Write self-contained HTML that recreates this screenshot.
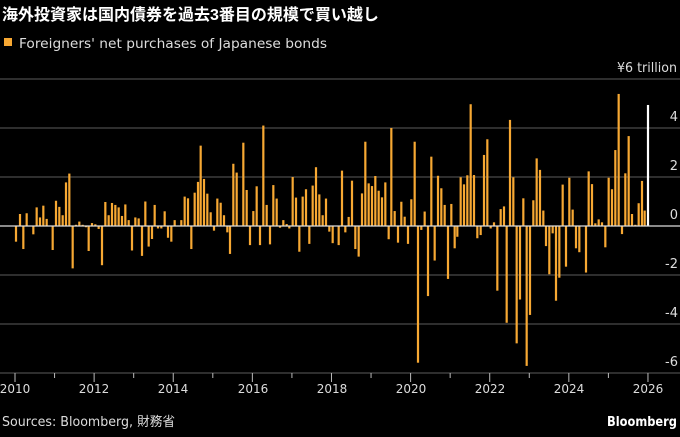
<!DOCTYPE html>
<html><head><meta charset="utf-8"><style>
body{margin:0;background:#000;width:680px;height:433px;overflow:hidden;font-family:"DejaVu Sans","Noto Sans CJK JP",sans-serif;color:#fff}
</style></head><body>
<svg id="s" width="680" height="433" xmlns="http://www.w3.org/2000/svg" font-family="DejaVu Sans, Noto Sans CJK JP, sans-serif">
<rect width="680" height="433" fill="#000"/>
<text x="2" y="20" font-size="16" font-weight="bold" fill="#fff" font-family="Liberation Sans, Noto Sans CJK JP, sans-serif">海外投資家は国内債券を過去3番目の規模で買い越し</text>
<rect x="4" y="38" width="8" height="8" fill="#f7a833"/>
<text x="19" y="48" font-size="13" fill="#ddd" textLength="308" lengthAdjust="spacingAndGlyphs">Foreigners' net purchases of Japanese bonds</text>
<text x="677" y="72" font-size="13" fill="#ddd" text-anchor="end" textLength="60" lengthAdjust="spacingAndGlyphs">¥6 trillion</text>
<g stroke="#4a4a4a" stroke-width="1.2">
<line x1="0" x2="680" y1="79" y2="79"/><line x1="0" x2="680" y1="128" y2="128"/><line x1="0" x2="680" y1="177" y2="177"/><line x1="0" x2="680" y1="275" y2="275"/><line x1="0" x2="680" y1="324" y2="324"/><line x1="0" x2="680" y1="373" y2="373"/>
</g>
<g font-size="13" fill="#ddd" text-anchor="end">
<text x="678" y="121">4</text><text x="678" y="170">2</text><text x="678" y="219">0</text><text x="678" y="268">-2</text><text x="678" y="317">-4</text><text x="678" y="366">-6</text>
</g>
<g id="bars"></g>
<line x1="0" x2="680" y1="226" y2="226" stroke="#ddd" stroke-width="1.2"/>
<g id="ticks" stroke="#bbb" stroke-width="1"></g>
<g font-size="12" fill="#ddd" text-anchor="middle">
<text x="15" y="393">2010</text><text x="94" y="393">2012</text><text x="173" y="393">2014</text><text x="253" y="393">2016</text><text x="332" y="393">2018</text><text x="411" y="393">2020</text><text x="490" y="393">2022</text><text x="569" y="393">2024</text><text x="648" y="393">2026</text>
</g>
<text x="2" y="426" font-size="13" fill="#ddd" textLength="173" lengthAdjust="spacingAndGlyphs">Sources: Bloomberg, 財務省</text>
<text x="677" y="426" font-size="13" font-weight="bold" fill="#fff" text-anchor="end" textLength="70" lengthAdjust="spacingAndGlyphs">Bloomberg</text>
</svg>
<script>
var L=[[48,-.64],[60,.49],[70,-.94],[80,.52],[90,.02],[100,-.34],[110,.76],[120,.35],[130,.83],[140,.29],[150,.02],[158,-.98],[168,1.03],[178,.78],[188,.44],[198,1.78],[208,2.14],[218,-1.73],[228,.05],[238,.18],[248,.05],[258,-.05],[266,-1.02],[276,.12],[286,.07],[296,-.12],[306,-1.6],[316,.98],[326,.44],[336,.94],[346,.86],[356,.76],[366,.41],[376,.88],[386,.24],[396,-1.0],[406,.35],[416,.31],[426,-1.22],[436,1.0],[446,-.84],[456,-.53],[464,.86],[474,-.1],[484,-.1],[494,.6],[504,-.48],[514,-.64],[524,.24],[534,.02],[544,.24],[554,1.2],[564,1.13],[574,-.94],[584,1.36],[594,1.8],[602,3.28],[612,1.92],[622,1.32],[632,.56],[642,-.19],[652,1.12],[662,.95],[672,.44],[682,-.26],[690,-1.14],[700,2.54],[710,2.18],[720,.02],[730,3.4],[740,1.47],[750,-.78],[760,.61],[770,1.62],[780,-.78],[790,4.1],[800,.86],[810,-.75],[820,1.67],[830,1.12],[840,-.07],[850,.24],[860,.08],[868,-.1],[878,2.0],[888,1.16],[898,-1.05],[908,1.2],[918,1.5],[928,-.73],[938,1.65],[948,2.4],[958,1.29],[968,.44],[978,1.12],[988,-.23],[998,-.7],[1008,.02],[1016,-.78]];
var R=[[6,2.26],[16,-.26],[26,.37],[36,1.85],[46,-.94],[56,-1.25],[66,1.33],[76,3.44],[86,1.74],[96,1.63],[106,2.04],[116,1.44],[126,1.17],[136,1.78],[146,-.54],[154,4.0],[164,.61],[174,-.68],[184,.99],[194,.38],[204,-.73],[214,1.09],[224,3.44],[234,-5.58],[244,-.16],[254,.59],[264,-2.86],[274,2.83],[284,-1.41],[294,2.05],[304,1.54],[314,.86],[324,-2.16],[334,.9],[344,-.91],[352,-.44],[362,1.99],[372,1.7],[382,2.07],[392,4.97],[402,2.08],[412,-.5],[422,-.37],[432,2.9],[442,3.54],[452,-.1],[462,.15],[472,-2.64],[482,.69],[492,.8],[500,-3.95],[510,4.33],[520,1.99],[530,-4.79],[540,-3.0],[550,1.13],[560,-5.71],[570,-3.63],[580,1.05],[590,2.76],[600,2.29],[610,.63],[618,-.82],[628,-1.97],[638,-.3],[648,-3.05],[658,-2.11],[668,1.69],[678,-1.66],[688,1.97],[698,.67],[708,-.91],[718,-1.07],[728,.02],[738,-1.9],[746,2.23],[756,1.71],[766,.11],[776,.27],[786,.15],[796,-.87],[806,1.97],[816,1.5],[826,3.1],[836,5.39],[846,-.33],[856,2.15],[866,3.67],[876,.49],[886,.05],[896,.93],[906,1.84],[914,.63]];
var g=document.getElementById('bars'),h='';
function add(x,v,c){var y=226-v*24.5;var t=Math.min(y,226),hh=Math.max(Math.abs(v*24.5),0.6);h+='<rect x="'+(x-1.1).toFixed(2)+'" y="'+t.toFixed(2)+'" width="2.2" height="'+hh.toFixed(2)+'" fill="'+c+'"/>';}
L.forEach(function(p){add(p[0]/3,p[1],'#f7a833')});
R.forEach(function(p){add(340+p[0]/3,p[1],'#f7a833')});
add(340+924/3,4.94,'#fff');
g.innerHTML=h;
var t='';for(var i=0;i<=16;i++){var x=15+i*39.56;t+='<line x1="'+x+'" x2="'+x+'" y1="373" y2="'+(i%2==0?382:378)+'"/>';}
document.getElementById('ticks').innerHTML=t;
</script>
</body></html>
